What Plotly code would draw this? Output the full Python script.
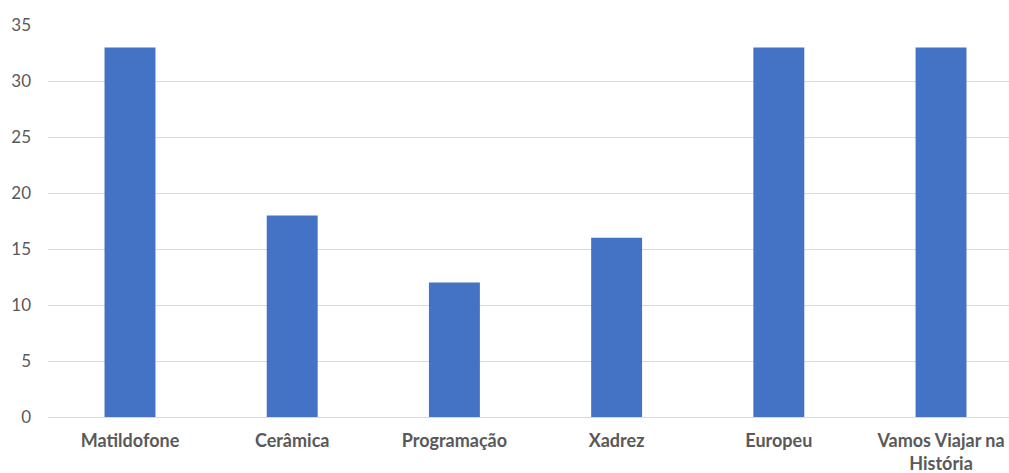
import plotly.graph_objects as go

categories = ["Matildofone", "Cerâmica", "Programação", "Xadrez", "Europeu", "Vamos Viajar na<br>História"]
values = [33, 18, 12, 16, 33, 33]
y_ticks = [0, 5, 10, 15, 20, 25, 30, 35]

fig = go.Figure(
    go.Bar(
        x=list(range(len(categories))),
        y=values,
        width=0.314,
        marker=dict(color="#4472C4", line=dict(width=0)),
    )
)

fig.update_layout(
    width=1009,
    height=473,
    margin=dict(l=48, r=0, t=25, b=56),
    paper_bgcolor="white",
    plot_bgcolor="white",
    showlegend=False,
    font=dict(family="Lato, Open Sans, sans-serif", color="#595959"),
)

fig.update_xaxes(
    range=[-0.5055, 5.419],
    tickmode="array",
    tickvals=list(range(len(categories))),
    ticktext=[f"<b>{c}</b>" for c in categories],
    tickfont=dict(size=18, color="#595959"),
    showgrid=False,
    zeroline=False,
    showline=False,
    ticks="",
    ticklabelstandoff=11,
)

fig.update_yaxes(
    range=[0, 35],
    tickmode="array",
    tickvals=y_ticks,
    tickfont=dict(size=17, color="#595959"),
    showgrid=True,
    gridcolor="#D9D9D9",
    gridwidth=1,
    zeroline=True,
    zerolinecolor="#D9D9D9",
    zerolinewidth=1,
    showline=False,
    ticks="",
    ticklabelstandoff=16,
)

fig.write_html("out.html")
